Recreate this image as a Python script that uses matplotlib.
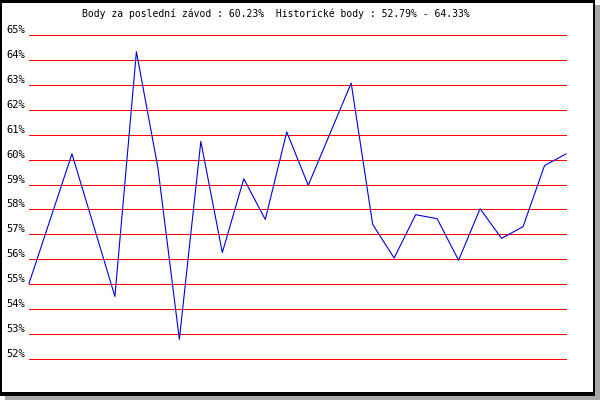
import matplotlib
matplotlib.use("Agg")
import matplotlib.pyplot as plt  # noqa: E402
from matplotlib.patches import Rectangle  # noqa: E402

# race index (gaps = races without a result) and score in %
races = [0, 2, 4, 5, 6, 7, 8, 9, 10, 11, 12, 13, 15, 16, 17, 18, 19, 20, 21, 22, 23, 24, 25]
scores = [55.03, 60.23, 54.51, 64.33, 59.68, 52.79, 60.73, 56.27, 59.23, 57.60, 61.11, 58.97,
          63.07, 57.40, 56.05, 57.79, 57.63, 55.96, 58.03, 56.84, 57.31, 59.76, 60.23]
levels = list(range(52, 66))
level_labels = [f"{v}%" for v in levels]
title = "Body za poslední závod : 60.23%  Historické body : 52.79% - 64.33%"

W, H = 600, 400
fig = plt.figure(figsize=(6, 4), dpi=100, facecolor="white")


def fx(px):
    return px / W


def fy(py):
    return 1 - py / H


# frame with drop shadow (drawn below the axes)
fig.patches.append(Rectangle((fx(5), fy(400)), fx(595), 395 / H, transform=fig.transFigure,
                             facecolor="#a8a8a8", edgecolor="none", zorder=-3))
fig.patches.append(Rectangle((fx(0), fy(396)), fx(595), 396 / H, transform=fig.transFigure,
                             facecolor="black", edgecolor="none", zorder=-2))
fig.patches.append(Rectangle((fx(2), fy(392)), fx(590.5), 389.5 / H, transform=fig.transFigure,
                             facecolor="white", edgecolor="none", zorder=-1))

# plot area: 52% .. 65% spans y=359..35, races 0..25 span x=29..566
ax = fig.add_axes([fx(29), fy(359), fx(566 - 29), (359 - 35) / H])
ax.set_facecolor("none")
ax.set_xlim(0, 25)
ax.set_ylim(52, 65)
for s in ax.spines.values():
    s.set_visible(False)
ax.set_xticks([])

for v in levels:
    ax.axhline(v, color="#ff0000", lw=0.72, antialiased=False, clip_on=False, zorder=1)

ax.plot(races, scores, color="#0000dd", lw=0.8, clip_on=False, zorder=2)

ax.set_yticks(levels)
ax.set_yticklabels(level_labels, fontsize=7.5, family="DejaVu Sans Mono", color="black")
ax.tick_params(axis="y", length=0, pad=3)
for lab in ax.get_yticklabels():
    lab.set_verticalalignment("bottom")

fig.text(fx(82), fy(17), title, fontsize=7, family="DejaVu Sans Mono",
         ha="left", va="baseline", color="black")

fig.savefig("out.png", dpi=100)
